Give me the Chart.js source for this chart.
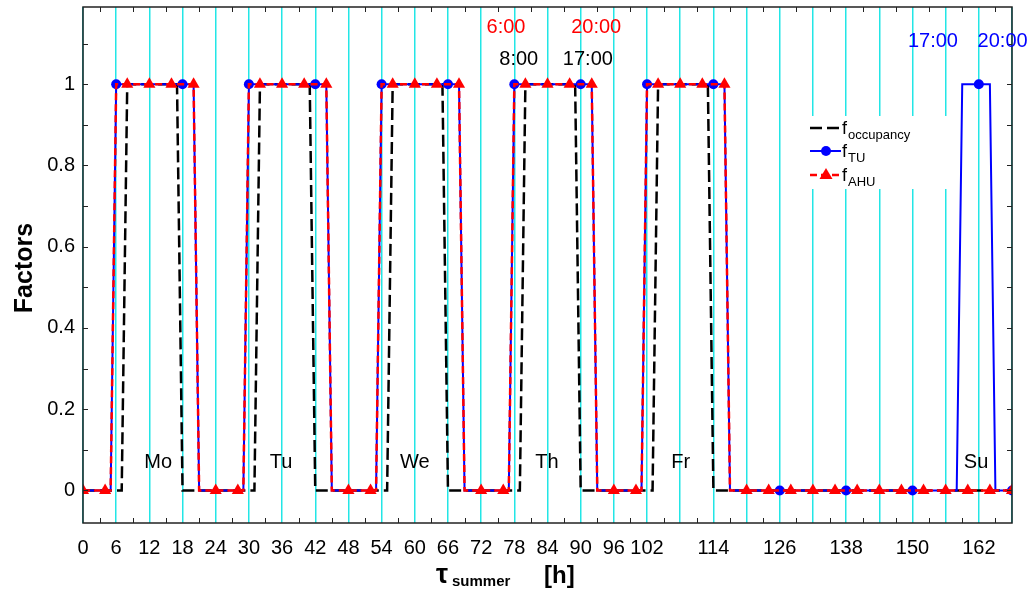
<!DOCTYPE html>
<html>
<head>
<meta charset="utf-8">
<script src="https://cdn.jsdelivr.net/npm/chart.js@4.4.1/dist/chart.umd.min.js"></script>
<style>
  html, body { margin: 0; padding: 0; background: #fff; }
  #wrap { width: 1029px; height: 590px; }
</style>
</head>
<body>
<div id="wrap"><canvas id="chart" width="1029" height="590"></canvas></div>
<script>
// ---------- data: one row per day (hour 0..23), last value = hour 168 ----------
const hours = [
  0, 1, 2, 3, 4, 5, 6, 7, 8, 9, 10, 11, 12, 13, 14, 15, 16, 17, 18, 19, 20, 21, 22, 23,
  24, 25, 26, 27, 28, 29, 30, 31, 32, 33, 34, 35, 36, 37, 38, 39, 40, 41, 42, 43, 44, 45, 46, 47,
  48, 49, 50, 51, 52, 53, 54, 55, 56, 57, 58, 59, 60, 61, 62, 63, 64, 65, 66, 67, 68, 69, 70, 71,
  72, 73, 74, 75, 76, 77, 78, 79, 80, 81, 82, 83, 84, 85, 86, 87, 88, 89, 90, 91, 92, 93, 94, 95,
  96, 97, 98, 99, 100, 101, 102, 103, 104, 105, 106, 107, 108, 109, 110, 111, 112, 113, 114, 115, 116, 117, 118, 119,
  120, 121, 122, 123, 124, 125, 126, 127, 128, 129, 130, 131, 132, 133, 134, 135, 136, 137, 138, 139, 140, 141, 142, 143,
  144, 145, 146, 147, 148, 149, 150, 151, 152, 153, 154, 155, 156, 157, 158, 159, 160, 161, 162, 163, 164, 165, 166, 167,
  168
];

const fOccupancy = [
  0,0,0,0,0,0,0,0,1,1,1,1,1,1,1,1,1,1,0,0,0,0,0,0,   // Mo
  0,0,0,0,0,0,0,0,1,1,1,1,1,1,1,1,1,1,0,0,0,0,0,0,   // Tu
  0,0,0,0,0,0,0,0,1,1,1,1,1,1,1,1,1,1,0,0,0,0,0,0,   // We
  0,0,0,0,0,0,0,0,1,1,1,1,1,1,1,1,1,1,0,0,0,0,0,0,   // Th
  0,0,0,0,0,0,0,0,1,1,1,1,1,1,1,1,1,1,0,0,0,0,0,0,   // Fr
  0,0,0,0,0,0,0,0,0,0,0,0,0,0,0,0,0,0,0,0,0,0,0,0,   // Sa
  0,0,0,0,0,0,0,0,0,0,0,0,0,0,0,0,0,0,0,0,0,0,0,0,   // Su
  0
];

const fTU = [
  0,0,0,0,0,0,1,1,1,1,1,1,1,1,1,1,1,1,1,1,1,0,0,0,
  0,0,0,0,0,0,1,1,1,1,1,1,1,1,1,1,1,1,1,1,1,0,0,0,
  0,0,0,0,0,0,1,1,1,1,1,1,1,1,1,1,1,1,1,1,1,0,0,0,
  0,0,0,0,0,0,1,1,1,1,1,1,1,1,1,1,1,1,1,1,1,0,0,0,
  0,0,0,0,0,0,1,1,1,1,1,1,1,1,1,1,1,1,1,1,1,0,0,0,
  0,0,0,0,0,0,0,0,0,0,0,0,0,0,0,0,0,0,0,0,0,0,0,0,
  0,0,0,0,0,0,0,0,0,0,0,0,0,0,0,1,1,1,1,1,1,0,0,0,
  0
];

const fAHU = [
  0,0,0,0,0,0,1,1,1,1,1,1,1,1,1,1,1,1,1,1,1,0,0,0,
  0,0,0,0,0,0,1,1,1,1,1,1,1,1,1,1,1,1,1,1,1,0,0,0,
  0,0,0,0,0,0,1,1,1,1,1,1,1,1,1,1,1,1,1,1,1,0,0,0,
  0,0,0,0,0,0,1,1,1,1,1,1,1,1,1,1,1,1,1,1,1,0,0,0,
  0,0,0,0,0,0,1,1,1,1,1,1,1,1,1,1,1,1,1,1,1,0,0,0,
  0,0,0,0,0,0,0,0,0,0,0,0,0,0,0,0,0,0,0,0,0,0,0,0,
  0,0,0,0,0,0,0,0,0,0,0,0,0,0,0,0,0,0,0,0,0,0,0,0,
  0
];

// hours that carry a marker
const tuMarkerHours = [6, 18, 30, 42, 54, 66, 78, 90, 102, 114, 126, 138, 150, 162, 168];
const ahuMarkerHours = [0, 4, 8, 12, 16, 20, 24, 28, 32, 36, 40, 44, 48, 52, 56, 60, 64, 68, 72, 76, 80, 84,
  88, 92, 96, 100, 104, 108, 112, 116, 120, 124, 128, 132, 136, 140, 144, 148, 152, 156, 160, 164, 168];

const xTickLabels = [0, 6, 12, 18, 24, 30, 36, 42, 48, 54, 60, 66, 72, 78, 84, 90, 96, 102, 114, 126, 138, 150, 162];
const yTickLabels = [0, 0.2, 0.4, 0.6, 0.8, 1];

const dayLabels = ["Mo", "Tu", "We", "Th", "Fr", "Su"];
const timeNotes = ["6:00", "20:00", "8:00", "17:00", "17:00", "20:00"];

const FONT = "'Liberation Sans', Arial, sans-serif";

function toPoints(values) {
  return hours.map((h, i) => ({ x: h, y: values[i] }));
}

// ---------- overlay: box, inward ticks, legend, texts ----------
const overlayPlugin = {
  id: "overlay",
  beforeDatasetsDraw(chart) {
    // legend sits on a white patch that hides the cyan grid
    const ctx = chart.ctx;
    ctx.save();
    ctx.fillStyle = "#fff";
    ctx.fillRect(800, 116, 150, 73);
    ctx.restore();
  },
  afterDraw(chart) {
    const { ctx, chartArea: a } = chart;
    const xs = chart.scales.x, ys = chart.scales.y;
    ctx.save();

    // frame
    ctx.strokeStyle = "#222";
    ctx.lineWidth = 1.5;
    ctx.strokeRect(a.left, a.top, a.right - a.left, a.bottom - a.top);

    // inward ticks
    ctx.lineWidth = 1;
    ctx.beginPath();
    for (let h = 3; h < 168; h += 6) {
      const px = Math.round(xs.getPixelForValue(h)) + 0.5;
      ctx.moveTo(px, a.bottom); ctx.lineTo(px, a.bottom - 5);
      ctx.moveTo(px, a.top); ctx.lineTo(px, a.top + 5);
    }
    for (let k = 0; k <= 11; k++) {
      const py = Math.round(ys.getPixelForValue(k / 10)) + 0.5;
      ctx.moveTo(a.left, py); ctx.lineTo(a.left + 5, py);
      ctx.moveTo(a.right, py); ctx.lineTo(a.right - 5, py);
    }
    ctx.stroke();

    // day names
    ctx.font = "20px " + FONT;
    ctx.fillStyle = "#000";
    ctx.textAlign = "center";
    ctx.textBaseline = "middle";
    const dayHours = [13.6, 35.8, 60, 83.9, 108.1, 161.5];
    dayLabels.forEach((t, i) => ctx.fillText(t, xs.getPixelForValue(dayHours[i]), ys.getPixelForValue(0.07)));

    // switching times
    ctx.font = "20px " + FONT;
    const notePos = [[76.5, 1.14, "#ff0000"], [92.8, 1.14, "#ff0000"], [78.8, 1.06, "#000"],
      [91.3, 1.06, "#000"], [153.7, 1.105, "#0000ff"], [166.3, 1.105, "#0000ff"]];
    timeNotes.forEach((t, i) => {
      ctx.fillStyle = notePos[i][2];
      ctx.fillText(t, xs.getPixelForValue(notePos[i][0]), ys.getPixelForValue(notePos[i][1]));
    });

    // legend
    const rows = [
      { sub: "occupancy", color: "#000", dash: [12, 5], marker: null, y: 128 },
      { sub: "TU", color: "#0000ff", dash: [], marker: "circle", y: 151 },
      { sub: "AHU", color: "#ff0000", dash: [7, 4], marker: "triangle", y: 175 }
    ];
    rows.forEach(r => {
      ctx.strokeStyle = r.color;
      ctx.fillStyle = r.color;
      ctx.lineWidth = r.marker === "circle" ? 2 : 2.5;
      ctx.setLineDash(r.dash);
      ctx.beginPath();
      ctx.moveTo(810, r.y); ctx.lineTo(841, r.y);
      ctx.stroke();
      ctx.setLineDash([]);
      if (r.marker === "circle") {
        ctx.beginPath(); ctx.arc(826, r.y, 5, 0, Math.PI * 2); ctx.fill();
      } else if (r.marker === "triangle") {
        ctx.beginPath();
        ctx.moveTo(826, r.y - 7); ctx.lineTo(832.5, r.y + 4); ctx.lineTo(819.5, r.y + 4);
        ctx.closePath(); ctx.fill();
      }
      ctx.fillStyle = "#000";
      ctx.textAlign = "left";
      ctx.textBaseline = "alphabetic";
      ctx.font = "18px " + FONT;
      ctx.fillText("f", 842, r.y + 6);
      ctx.font = "13px " + FONT;
      ctx.fillText(r.sub, 848, r.y + 11);
    });

    // axis titles
    ctx.fillStyle = "#000";
    ctx.font = "bold 27px " + FONT;
    ctx.fillText("\u03c4", 436, 583);
    ctx.font = "bold 15px " + FONT;
    ctx.fillText("summer", 452, 586);
    ctx.font = "bold 24px " + FONT;
    ctx.fillText("[h]", 544, 583);

    ctx.translate(25, 268);
    ctx.rotate(-Math.PI / 2);
    ctx.textAlign = "center";
    ctx.textBaseline = "middle";
    ctx.font = "bold 25px " + FONT;
    ctx.fillText("Factors", 0, 0);

    ctx.restore();
  }
};

// ---------- chart ----------
Chart.defaults.font.family = FONT;

new Chart(document.getElementById("chart"), {
  type: "line",
  data: {
    datasets: [
      {
        label: "fAHU",
        data: toPoints(fAHU),
        borderColor: "#ff0000",
        backgroundColor: "#ff0000",
        borderWidth: 2.5,
        borderDash: [7, 4],
        pointStyle: "triangle",
        pointRadius: c => ahuMarkerHours.includes(hours[c.dataIndex]) ? 7 : 0,
        pointBorderWidth: 0,
        tension: 0,
        clip: 0
      },
      {
        label: "fTU",
        data: toPoints(fTU),
        borderColor: "#0000ff",
        backgroundColor: "#0000ff",
        borderWidth: 2,
        pointStyle: "circle",
        pointRadius: c => tuMarkerHours.includes(hours[c.dataIndex]) ? 5 : 0,
        pointBorderWidth: 0,
        tension: 0,
        clip: 0
      },
      {
        label: "foccupancy",
        data: toPoints(fOccupancy),
        borderColor: "#000",
        backgroundColor: "#000",
        borderWidth: 2.5,
        borderDash: [12, 5],
        pointRadius: 0,
        tension: 0,
        clip: 0
      }
    ]
  },
  options: {
    responsive: false,
    animation: false,
    events: [],
    devicePixelRatio: 1,
    layout: { padding: { top: 4, right: 17, left: 0, bottom: 0 } },
    plugins: { legend: { display: false }, tooltip: { enabled: false } },
    scales: {
      x: {
        type: "linear",
        min: 0,
        max: 168,
        afterFit: s => { s.height = 67; s.paddingLeft = 0; s.paddingRight = 0; },
        border: { display: false },
        grid: { color: "#22e6e6", lineWidth: 1.5, drawTicks: false },
        ticks: {
          stepSize: 6,
          autoSkip: false,
          maxRotation: 0,
          padding: 13,
          color: "#000",
          font: { size: 20 },
          callback: v => xTickLabels.includes(v) ? String(v) : ""
        }
      },
      y: {
        type: "linear",
        min: -0.08,
        max: 1.19,
        afterFit: s => { s.width = 83; s.paddingTop = 0; s.paddingBottom = 0; },
        border: { display: false },
        grid: { display: false, drawTicks: false },
        ticks: {
          stepSize: 0.1,
          autoSkip: false,
          padding: 8,
          color: "#000",
          font: { size: 20 },
          callback: v => yTickLabels.some(t => Math.abs(t - v) < 1e-6) ? String(Math.round(v * 10) / 10) : ""
        }
      }
    }
  },
  plugins: [overlayPlugin]
});
</script>
</body>
</html>
